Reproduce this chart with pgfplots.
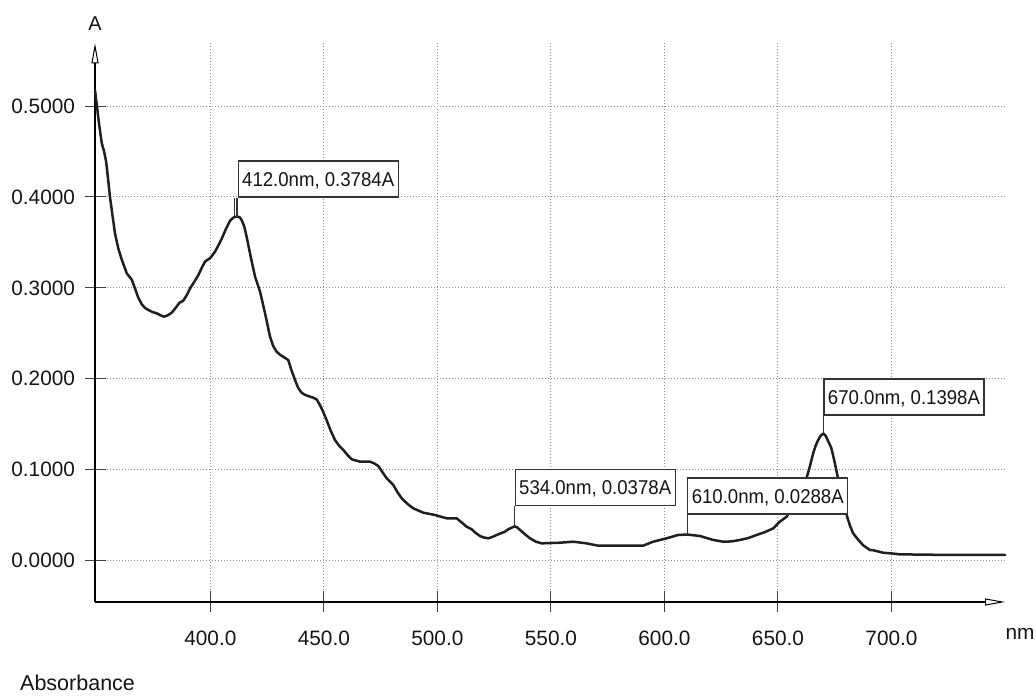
\documentclass[border=0pt]{standalone}
\usepackage{fontspec}
\setmainfont{Liberation Sans}
\newfontfamily\annfont[FakeStretch=0.93]{Liberation Sans}
\usepackage{pgfplots}
\pgfplotsset{compat=1.18}
\usetikzlibrary{arrows.meta}

\pgfplotstableread{
nm A
349.2 0.5175
350.0 0.5010
351.0 0.4800
352.2 0.4590
353.2 0.4500
354.1 0.4390
355.0 0.4190
355.8 0.4000
357.0 0.3780
358.0 0.3600
359.5 0.3430
361.0 0.3310
363.2 0.3160
365.4 0.3090
366.8 0.2995
368.3 0.2890
369.8 0.2820
371.2 0.2780
372.7 0.2757
374.5 0.2735
376.4 0.2720
378.0 0.2700
379.6 0.2683
381.3 0.2700
383.0 0.2727
384.7 0.2780
386.4 0.2837
388.1 0.2860
389.6 0.2920
391.1 0.2995
393.0 0.3070
394.7 0.3140
396.2 0.3220
397.7 0.3290
400.0 0.3330
402.1 0.3400
403.6 0.3470
405.0 0.3540
406.9 0.3650
408.7 0.3740
410.5 0.3780
412.0 0.3784
413.0 0.3775
413.8 0.3746
415.0 0.3670
416.0 0.3560
417.8 0.3340
419.7 0.3123
421.9 0.2958
424.1 0.2720
426.3 0.2463
427.7 0.2360
429.2 0.2298
430.7 0.2265
432.1 0.2243
434.3 0.2207
435.8 0.2090
437.3 0.1987
438.7 0.1900
440.2 0.1847
441.6 0.1825
443.1 0.1811
445.0 0.1795
446.8 0.1775
448.3 0.1710
449.7 0.1638
451.2 0.1547
453.0 0.1430
454.9 0.1327
456.7 0.1265
458.6 0.1217
460.5 0.1160
462.3 0.1115
465.9 0.1089
470.3 0.1089
472.2 0.1070
474.0 0.1041
475.9 0.0970
477.7 0.0906
480.6 0.0832
482.5 0.0750
484.3 0.0686
486.8 0.0625
489.4 0.0576
493.8 0.0528
498.9 0.0503
504.1 0.0466
508.5 0.0466
510.7 0.0420
512.9 0.0374
515.1 0.0345
516.9 0.0305
518.7 0.0272
520.5 0.0255
522.4 0.0246
524.3 0.0262
526.1 0.0283
529.7 0.0319
531.2 0.0345
532.7 0.0363
534.0 0.0378
535.2 0.0365
536.4 0.0338
538.6 0.0290
540.8 0.0246
543.3 0.0210
545.9 0.0191
554.0 0.0198
559.8 0.0209
565.7 0.0191
570.8 0.0165
581.8 0.0165
590.6 0.0165
595.0 0.0209
600.9 0.0246
606.0 0.0283
610.0 0.0288
615.6 0.0272
621.5 0.0228
625.9 0.0209
629.5 0.0212
633.2 0.0228
637.0 0.0250
640.6 0.0283
644.3 0.0315
647.9 0.0356
650.8 0.0429
653.8 0.0484
656.0 0.0570
658.0 0.0680
660.4 0.0790
662.6 0.0910
664.2 0.1050
665.5 0.1181
666.6 0.1265
667.7 0.1327
668.9 0.1378
670.0 0.1398
671.0 0.1375
672.0 0.1320
673.5 0.1240
675.0 0.1080
676.5 0.0900
678.5 0.0680
680.5 0.0480
681.8 0.0380
683.1 0.0301
685.0 0.0240
687.5 0.0170
690.5 0.0118
692.0 0.0115
696.3 0.0088
700.0 0.0080
703.7 0.0070
720.0 0.0065
740.0 0.0063
750.0 0.0063
}\spectrum

\begin{document}
\begin{tikzpicture}[x=1bp,y=1bp]
\useasboundingbox (0,0) rectangle (1036,697);
\begin{axis}[
  at={(95bp,95bp)}, anchor=south west,
  width=910bp, height=558.7bp, scale only axis,
  xmin=349.2, xmax=750, ymin=-0.0454, ymax=0.569,
  axis x line=bottom, axis y line=left,
  axis line style={line width=1.2bp, black, -{Triangle[open,length=20bp,width=7bp,line width=1bp]}},
  xtick={400,450,500,550,600,650,700},
  ytick={0,0.1,0.2,0.3,0.4,0.5},
  major tick length=21bp, tick align=center,
  tick style={line width=1bp, black!75},
  grid=major,
  major grid style={line width=1bp, black!45, dash pattern=on 1bp off 2bp},
  /pgf/number format/assume math mode=true,
  ticklabel style={font=\fontsize{20.8bp}{24bp}\selectfont, text=black!92},
  xticklabel={\pgfmathprintnumber[fixed,fixed zerofill,precision=1,assume math mode=true]{\tick}},
  yticklabel={\pgfmathprintnumber[fixed,fixed zerofill,precision=4,assume math mode=true]{\tick}},
  xticklabel style={yshift=-15bp},
  yticklabel style={xshift=-6bp},
  clip=false,
]
\addplot[line width=2.5bp, black!88, line join=round, line cap=round] table[x=nm, y=A] {\spectrum};

\tikzset{ann/.style={anchor=south west, draw=black!80, line width=1.2bp, fill=white,
  font=\annfont\fontsize{20bp}{24bp}\selectfont, text=black!92, inner xsep=4bp, inner ysep=10.85bp,
  text height=14.3bp, text depth=0bp}}
\draw[line width=1bp, black!80] (axis cs:411.4,0.3784) -- ++(0pt,19bp);
\draw[line width=1bp, black!80] (axis cs:410.8,0.3784) -- ++(0pt,19bp);
\draw[line width=1bp, black!80] (axis cs:412,0.3784) -- ++(0pt,19bp) node[ann]{412.0nm, 0.3784A};
\draw[line width=1bp, black!80] (axis cs:534,0.0378) -- ++(0pt,20bp) node[ann]{534.0nm, 0.0378A};
\draw[line width=1bp, black!80] (axis cs:610,0.0288) -- ++(0pt,20bp) node[ann]{610.0nm, 0.0288A};
\draw[line width=1bp, black!80] (axis cs:670,0.1398) -- ++(0pt,18bp) node[ann]{670.0nm, 0.1398A};
\end{axis}
\node[font=\fontsize{20bp}{24bp}\selectfont, text=black!92] at (95,673) {A};
\node[anchor=base, font=\fontsize{20.8bp}{24bp}\selectfont, text=black!92] at (1020,57) {nm};
\node[anchor=base west, inner sep=0pt, font=\fontsize{21.5bp}{25bp}\selectfont, text=black!92] at (20,6) {Absorbance};
\end{tikzpicture}
\end{document}
